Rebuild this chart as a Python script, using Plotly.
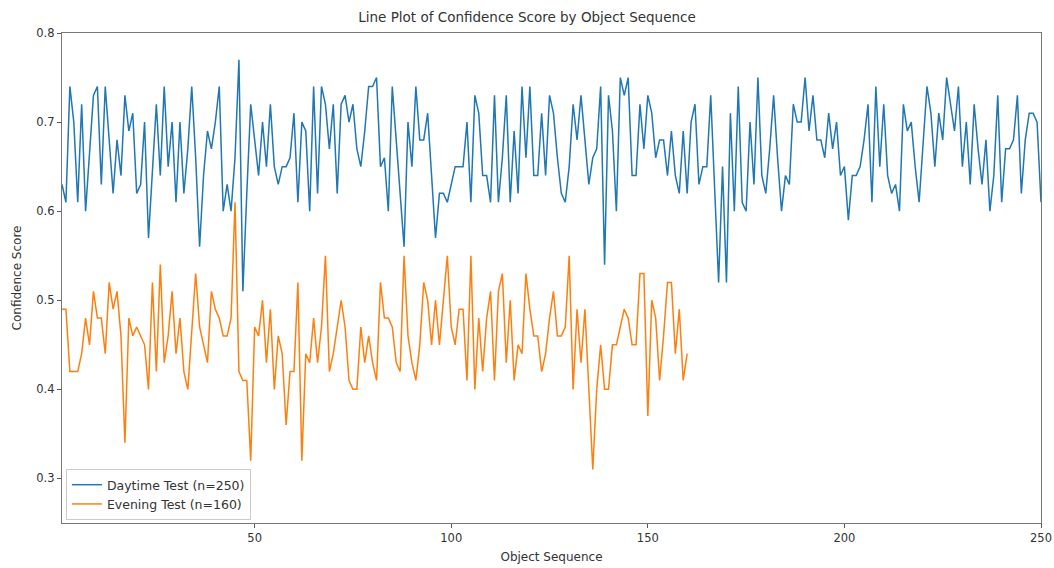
import plotly.graph_objects as go

daytime = [
    0.63, 0.61, 0.74, 0.70, 0.61, 0.72, 0.60, 0.67, 0.73, 0.74,
    0.63, 0.74, 0.68, 0.62, 0.68, 0.64, 0.73, 0.69, 0.71, 0.62,
    0.63, 0.70, 0.57, 0.64, 0.72, 0.64, 0.74, 0.65, 0.70, 0.61,
    0.70, 0.62, 0.67, 0.74, 0.66, 0.56, 0.64, 0.69, 0.67, 0.70,
    0.74, 0.60, 0.63, 0.60, 0.66, 0.77, 0.51, 0.62, 0.72, 0.68,
    0.64, 0.70, 0.65, 0.72, 0.65, 0.63, 0.65, 0.65, 0.66, 0.71,
    0.61, 0.70, 0.69, 0.60, 0.74, 0.62, 0.74, 0.72, 0.67, 0.72,
    0.62, 0.72, 0.73, 0.70, 0.72, 0.67, 0.65, 0.69, 0.74, 0.74,
    0.75, 0.65, 0.66, 0.60, 0.74, 0.68, 0.62, 0.56, 0.70, 0.65,
    0.74, 0.68, 0.68, 0.71, 0.64, 0.57, 0.62, 0.62, 0.61, 0.63,
    0.65, 0.65, 0.65, 0.70, 0.61, 0.73, 0.71, 0.64, 0.64, 0.61,
    0.73, 0.61, 0.66, 0.73, 0.61, 0.69, 0.62, 0.74, 0.66, 0.74,
    0.64, 0.64, 0.71, 0.64, 0.73, 0.71, 0.66, 0.62, 0.61, 0.65,
    0.72, 0.68, 0.73, 0.68, 0.63, 0.66, 0.67, 0.74, 0.54, 0.73,
    0.69, 0.60, 0.75, 0.73, 0.75, 0.64, 0.64, 0.72, 0.67, 0.73,
    0.71, 0.66, 0.68, 0.68, 0.64, 0.69, 0.64, 0.62, 0.69, 0.62,
    0.70, 0.72, 0.63, 0.65, 0.65, 0.73, 0.62, 0.52, 0.65, 0.52,
    0.71, 0.60, 0.74, 0.61, 0.60, 0.70, 0.63, 0.75, 0.64, 0.62,
    0.67, 0.73, 0.66, 0.60, 0.64, 0.63, 0.72, 0.70, 0.70, 0.75,
    0.69, 0.73, 0.68, 0.68, 0.66, 0.71, 0.67, 0.70, 0.64, 0.65,
    0.59, 0.64, 0.64, 0.65, 0.68, 0.72, 0.61, 0.74, 0.65, 0.72,
    0.64, 0.62, 0.63, 0.60, 0.72, 0.69, 0.70, 0.65, 0.61, 0.67,
    0.74, 0.71, 0.65, 0.71, 0.68, 0.75, 0.72, 0.69, 0.74, 0.65,
    0.70, 0.63, 0.72, 0.67, 0.63, 0.68, 0.60, 0.64, 0.73, 0.61,
    0.67, 0.67, 0.68, 0.73, 0.62, 0.68, 0.71, 0.71, 0.70, 0.61,
]

evening = [
    0.49, 0.49, 0.42, 0.42, 0.42, 0.44, 0.48, 0.45, 0.51, 0.48,
    0.48, 0.44, 0.52, 0.49, 0.51, 0.46, 0.34, 0.48, 0.46, 0.47,
    0.46, 0.45, 0.40, 0.52, 0.42, 0.54, 0.43, 0.46, 0.51, 0.44,
    0.48, 0.42, 0.40, 0.47, 0.53, 0.47, 0.45, 0.43, 0.51, 0.49,
    0.48, 0.46, 0.46, 0.48, 0.61, 0.42, 0.41, 0.41, 0.32, 0.47,
    0.46, 0.50, 0.43, 0.49, 0.40, 0.46, 0.44, 0.36, 0.42, 0.42,
    0.52, 0.32, 0.44, 0.43, 0.48, 0.43, 0.47, 0.55, 0.42, 0.44,
    0.47, 0.50, 0.47, 0.41, 0.40, 0.40, 0.47, 0.43, 0.46, 0.43,
    0.41, 0.52, 0.48, 0.48, 0.47, 0.43, 0.42, 0.55, 0.46, 0.43,
    0.41, 0.45, 0.52, 0.50, 0.45, 0.50, 0.45, 0.50, 0.55, 0.47,
    0.45, 0.49, 0.49, 0.41, 0.55, 0.40, 0.48, 0.42, 0.48, 0.51,
    0.41, 0.51, 0.53, 0.43, 0.50, 0.41, 0.45, 0.44, 0.53, 0.49,
    0.46, 0.46, 0.42, 0.44, 0.48, 0.51, 0.46, 0.46, 0.47, 0.55,
    0.40, 0.49, 0.43, 0.49, 0.40, 0.31, 0.40, 0.45, 0.40, 0.40,
    0.45, 0.45, 0.47, 0.49, 0.48, 0.45, 0.45, 0.53, 0.53, 0.37,
    0.50, 0.48, 0.41, 0.46, 0.52, 0.52, 0.44, 0.49, 0.41, 0.44,
]

series_names = ["Daytime Test (n=250)", "Evening Test (n=160)"]
x_ticks = [50, 100, 150, 200, 250]
y_ticks = [0.3, 0.4, 0.5, 0.6, 0.7, 0.8]

fig = go.Figure()
fig.add_trace(go.Scatter(
    x=list(range(1, len(daytime) + 1)), y=daytime, mode="lines",
    name=series_names[0], line=dict(color="#1f77b4", width=1.5)))
fig.add_trace(go.Scatter(
    x=list(range(1, len(evening) + 1)), y=evening, mode="lines",
    name=series_names[1], line=dict(color="#ff7f0e", width=1.5)))

font = "DejaVu Sans, Arial, sans-serif"
fig.update_layout(
    width=1054, height=568,
    margin=dict(l=62, r=13, t=33, b=45),
    paper_bgcolor="white", plot_bgcolor="white",
    font=dict(family=font, size=11, color="#333333"),
    title=dict(text="Line Plot of Confidence Score by Object Sequence",
               x=0.5, xanchor="center", y=0.970, yanchor="middle",
               font=dict(size=13.5, color="#333333")),
    showlegend=True,
    legend=dict(x=0.004, y=0.006, xanchor="left", yanchor="bottom",
                bgcolor="rgba(255,255,255,0.85)", bordercolor="#cccccc",
                borderwidth=1, font=dict(size=12.5), tracegroupgap=2),
)
fig.update_xaxes(
    range=[1, 250], tickvals=x_ticks, ticks="outside", ticklen=4,
    tickcolor="#555555", showgrid=False, zeroline=False, automargin=False,
    showline=True, linecolor="#777777", linewidth=1.2, mirror=True,
    tickfont=dict(size=11.5),
    title=dict(text="Object Sequence", standoff=8, font=dict(size=12)),
)
fig.update_yaxes(
    range=[0.25, 0.8], tickvals=y_ticks, tickformat=".1f", ticks="outside",
    ticklen=4, tickcolor="#555555", showgrid=False, zeroline=False,
    automargin=False,
    showline=True, linecolor="#777777", linewidth=1.2, mirror=True,
    tickfont=dict(size=11.5),
    title=dict(text="Confidence Score", standoff=12, font=dict(size=12)),
)

fig.write_html(
    "out.html",
    config={"displayModeBar": False},
    post_script="document.body.style.margin='0';document.body.style.overflow='hidden';",
)
